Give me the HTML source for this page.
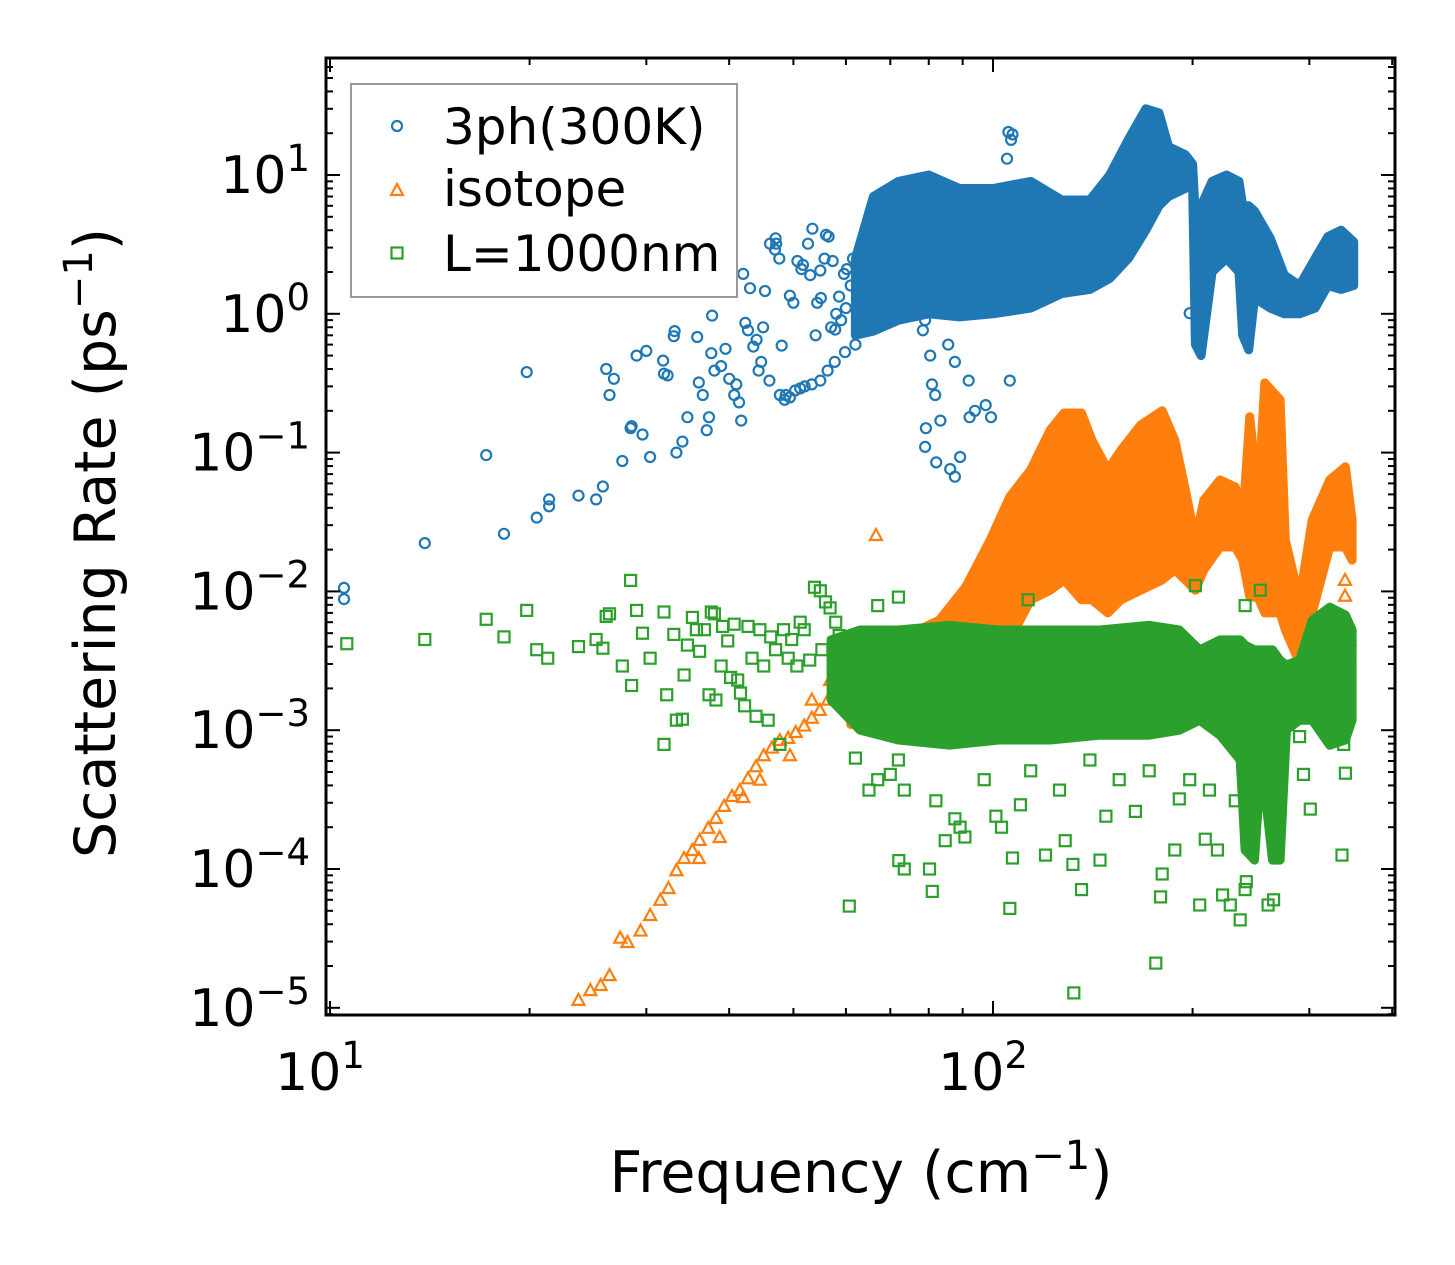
<!DOCTYPE html>
<html><head><meta charset="utf-8"><style>
html,body{margin:0;padding:0;background:#fff;}
svg{display:block;font-family:"DejaVu Sans","Liberation Sans",sans-serif;}
</style></head>
<body>
<svg id="chart" width="1455" height="1265" viewBox="0 0 1455 1265" xmlns="http://www.w3.org/2000/svg">
<rect width="1455" height="1265" fill="#fff"/>
<g id="marks"></g>
<g id="axes"></g>
<text x="861" y="1192" font-size="57" text-anchor="middle">Frequency (cm<tspan dy="-23" font-size="40">−1</tspan><tspan dy="23">)</tspan></text>
<text transform="translate(115,543) rotate(-90)" font-size="57" text-anchor="middle">Scattering Rate (ps<tspan dy="-23" font-size="40">−1</tspan><tspan dy="23">)</tspan></text>
<g>
<rect x="351" y="84" width="386" height="213" fill="#fff" stroke="#999" stroke-width="2"/>
<circle cx="397" cy="126" r="5" fill="none" stroke="#1f77b4" stroke-width="2.2"/>
<text x="443" y="144" font-size="50">3ph(300K)</text>
<polygon points="397,184 403,195 391,195" fill="none" stroke="#ff7f0e" stroke-width="2.2"/>
<text x="443" y="206" font-size="50">isotope</text>
<rect x="391.5" y="247.5" width="11" height="11" fill="none" stroke="#2ca02c" stroke-width="2.2"/>
<text x="443" y="271" font-size="50">L=1000nm</text>
</g>
</svg>
<script>
// ---- data ----
const blueBandFreq=[62,66,72,80,89,100,114,127,140,150,160,170,178,184,195,200,202,206,214,225,235,238,243,248,262,275,290,306,320,335,350];
const blueBandLo=[0.7,0.75,0.9,1.0,0.95,1.0,1.1,1.4,1.5,1.8,2.5,4,6,7,8,8.7,0.6,0.5,2,2.5,2,0.7,0.55,1.3,1.1,1.0,1.0,1.1,1.6,1.5,1.6];
const blueBandHi=[2.5,7,9,10,8,8,9,6.6,6.6,10,18,30,28,16,14,12,5,6,9,10,9,6,6,5.5,3.5,1.9,1.6,2.5,3.6,4,3.3];
const blueFreq=[10.5,10.5,13.9,17.2,18.3,19.8,20.5,21.4,21.4,23.7,25.2,25.8,26.1,26.4,26.8,27.6,28.4,28.5,29,30,29.6,30.4,31.8,31.9,32.3,33,33.1,33.3,34,34.6,35.8,36,36.5,37,37.3,37.6,37.7,38,38.9,39.5,40,40.7,41,41.4,41.7,42,42.3,42.7,43,43.5,44,44.3,44.7,45,45.3,46,46.9,47.1,47.6,48,48.7,49.4,50,50.7,51.4,51.7,52.6,53.4,54.3,54.9,55.7,56.5,57.3,57.8,58.6,59.6,60.2,61.5,46.1,47,47.7,48.5,49.4,50.3,51.2,52,53.3,54.9,56.3,57.7,59.8,62,78.4,79,80.4,80.9,81.8,83.3,79.2,79,82.1,87.6,86.2,89.2,93.9,97.5,99.3,92.2,91.9,85.6,87.6,106,106.5,107,105.5,105,176.7,198,161,56,58,60,55,57,59,61,53,54];
const blueRate=[0.0106,0.0088,0.0223,0.096,0.026,0.38,0.034,0.041,0.046,0.049,0.046,0.057,0.4,0.26,0.34,0.087,0.15,0.155,0.5,0.54,0.135,0.093,0.46,0.37,0.36,0.69,0.75,0.1,0.12,0.18,0.68,0.32,0.26,0.145,0.18,0.52,0.97,0.39,0.42,0.56,0.34,0.26,0.31,0.23,0.17,1.94,0.86,0.76,1.53,0.58,0.65,0.39,0.45,0.8,1.46,0.33,2.9,3.2,2.5,0.59,0.26,1.35,1.2,2.4,2.1,2.25,3.2,4.1,1.2,2.05,2.5,3.6,2.4,0.77,1.33,1.94,2.1,2.5,3.2,3.5,0.26,0.24,0.25,0.28,0.29,0.30,0.31,0.33,0.39,0.45,0.53,0.6,0.76,0.9,0.5,0.31,0.26,0.17,0.15,0.11,0.085,0.067,0.076,0.093,0.2,0.22,0.18,0.18,0.33,0.6,0.45,0.33,17.9,19.6,20.4,13.1,10.4,1.01,4.7,3.7,1.0,1.1,1.3,0.8,0.9,1.6,1.9,0.7,1.5];
const orangeBandFreq=[61,72,83,91,99,106,114,122,128,136,141,149,156,167,180,188,195,202,208,220,232,238,244,251,257,271,276,290,303,322,340,348];
const orangeBandLo=[1.1e-3,1.3e-3,1.5e-3,1.65e-3,2.3e-3,4.5e-3,8.7e-3,0.0102,0.0121,8.7e-3,8.7e-3,7e-3,8.7e-3,0.0102,0.0121,0.0143,0.0121,0.0102,0.0143,0.0209,0.0209,0.0168,9.1e-3,9.1e-3,7e-3,7e-3,5.3e-3,3.05e-3,7e-3,0.0209,0.0209,0.0168];
const orangeBandHi=[3.2e-3,4.5e-3,6.2e-3,0.0108,0.0234,0.048,0.075,0.146,0.193,0.193,0.123,0.075,0.104,0.158,0.2,0.123,0.054,0.0234,0.0455,0.0635,0.0565,0.0327,0.181,0.0455,0.318,0.24,0.0234,8.7e-3,0.0327,0.0635,0.079,0.0327];
const orangeFreq=[23.7,24.7,25.6,26.4,27.4,28.1,29.4,30.4,31.5,32.4,33.3,34.2,35.2,36.1,37.2,38.2,39.3,40.4,41.5,42.7,43.9,45.1,46.4,47.7,49.1,50.4,51.9,53.3,54.8,56.4,57.9,59.6,42,36,49.4,44.5,38.7,53.3,56.8,61,66.6,161,147.5,178.6,240,339.6,339.6,345,191.4,111.7,97.3];
const orangeRate=[1.14e-5,1.34e-5,1.46e-5,1.72e-5,3.2e-5,2.98e-5,3.6e-5,4.66e-5,6.0e-5,7.3e-5,9.8e-5,1.2e-4,1.37e-4,1.62e-4,1.98e-4,2.33e-4,2.85e-4,3.36e-4,3.7e-4,4.5e-4,5.5e-4,6.6e-4,7.5e-4,8.5e-4,8.8e-4,9.7e-4,1.08e-3,1.23e-3,1.4e-3,1.66e-3,1.95e-3,2.3e-3,3.3e-4,1.2e-4,6.6e-4,4.4e-4,1.7e-4,1.66e-3,2.3e-3,2.9e-3,0.0255,0.0168,0.0205,0.042,0.0216,0.0121,9.3e-3,4.5e-3,0.0327,0.0168,0.0168];
const greenBandFreq=[57,63,72,86,102,122,145,172,191,205,220,236,240,248,254,264,271,277,290,303,322,340,348];
const greenBandLo=[1.65e-3,1.0e-3,8.5e-4,7.8e-4,8.5e-4,8.5e-4,9.2e-4,9.2e-4,1.0e-3,1.18e-3,9.2e-4,6.1e-4,1.37e-4,1.16e-4,6.1e-4,1.16e-4,1.16e-4,1.0e-3,1.18e-3,1.18e-3,7.8e-4,8.5e-4,1.18e-3];
const greenBandHi=[4.47e-3,5.27e-3,5.27e-3,5.7e-3,5.27e-3,5.27e-3,5.27e-3,5.7e-3,5.27e-3,3.79e-3,4.47e-3,4.47e-3,4.1e-3,3.79e-3,3.79e-3,3.79e-3,3.19e-3,2.95e-3,3.19e-3,6.2e-3,7.7e-3,6.76e-3,5.27e-3];
const greenFreq=[10.6,13.9,17.2,18.3,19.8,20.5,21.3,23.7,25.2,25.8,26.1,26.4,27.6,28.4,28.5,29,29.6,30.4,31.9,31.9,32.2,33,33.3,34,34.2,34.6,35.2,35.7,36.1,36.7,37.3,37.6,38,38.2,38.9,39.1,39.8,40.2,40.7,41.2,41.6,42.2,42.7,43.3,43.9,44.5,45.1,45.8,46.2,47,47.7,48.3,49.1,49.7,50.6,51.2,51.9,52.9,53.8,54.9,55.2,55.9,56.8,57.9,58.6,60.7,62,62.6,72.1,73.5,81,80.2,84.7,87.6,89.2,90.7,101,103,106,107,110,120,128.5,136,132,145,132.4,148,164,176,179,180,188,191,205,209,218,222,228,236,240,241,260,265,294,301,336,340,338,290,155,140,172,97,82,73.5,70,67,65,72,126,114,198,212,232,113,67,72,202,253,240];
const greenRate=[4.2e-3,4.5e-3,6.3e-3,4.7e-3,7.3e-3,3.8e-3,3.3e-3,4.0e-3,4.5e-3,3.9e-3,6.6e-3,6.9e-3,2.9e-3,0.012,2.1e-3,7.3e-3,5.0e-3,3.3e-3,7.9e-4,7.1e-3,1.8e-3,4.9e-3,1.18e-3,1.2e-3,2.5e-3,4.1e-3,6.5e-3,5.3e-3,3.7e-3,5.3e-3,1.8e-3,7.1e-3,6.9e-3,1.65e-3,2.9e-3,5.6e-3,4.4e-3,2.4e-3,5.8e-3,2.3e-3,1.85e-3,1.5e-3,5.6e-3,3.3e-3,1.26e-3,5.3e-3,2.9e-3,1.18e-3,4.7e-3,3.8e-3,7.9e-4,5.3e-3,3.3e-3,4.5e-3,2.9e-3,6.0e-3,5.3e-3,3.2e-3,0.0107,0.0101,3.8e-3,8.4e-3,7.6e-3,6.0e-3,4.8e-3,5.4e-5,6.3e-4,2.8e-3,1.15e-4,1.0e-4,6.9e-5,1.0e-4,1.6e-4,2.3e-4,2e-4,1.7e-4,2.4e-4,2e-4,5.2e-5,1.2e-4,2.9e-4,1.26e-4,1.6e-4,7.1e-5,1.08e-4,1.16e-4,1.28e-5,2.4e-4,2.6e-4,2.1e-5,6.3e-5,9.2e-5,1.37e-4,3.2e-4,5.5e-5,1.64e-4,1.37e-4,6.5e-5,5.5e-5,4.3e-5,7.1e-5,8.1e-5,5.5e-5,6e-5,4.8e-4,2.7e-4,1.26e-4,4.9e-4,7.9e-4,9.0e-4,4.4e-4,6.1e-4,5.1e-4,4.4e-4,3.1e-4,3.7e-4,4.8e-4,4.4e-4,3.7e-4,6.1e-4,3.7e-4,5.1e-4,4.4e-4,3.7e-4,3.1e-4,8.7e-3,7.9e-3,9.1e-3,0.011,0.0102,7.9e-3];
const xMajorTicks=[10,100];
const xMajorExp=["1","2"];
const yMajorTicks=[10,1,0.1,0.01,0.001,1e-4,1e-5];
const yMajorExp=["1","0","−1","−2","−3","−4","−5"];

// ---- axes functions ----
const L=326,R=1395,T=58,B=1015;
function xs(f){return 330+663*(Math.log10(f)-1);}
function ys(v){return 175-138.8*Math.log10(v/10);}
const NS="http://www.w3.org/2000/svg";
const marks=document.getElementById('marks');
const axes=document.getElementById('axes');
function mk(tag,attrs,parent){const e=document.createElementNS(NS,tag);for(const k in attrs)e.setAttribute(k,attrs[k]);parent.appendChild(e);return e;}

function band(fr,lo,hi,color,name){
  const pts=[];
  for(let i=0;i<fr.length;i++)pts.push(xs(fr[i]).toFixed(1)+','+ys(hi[i]).toFixed(1));
  for(let i=fr.length-1;i>=0;i--)pts.push(xs(fr[i]).toFixed(1)+','+ys(lo[i]).toFixed(1));
  const p=mk('polygon',{points:pts.join(' '),fill:color,stroke:color,'stroke-width':9,'stroke-linejoin':'round'},marks);
  
  
}
function pts(fr,rt,color,shape,name){
  const g=mk('g',{fill:'none',stroke:color,'stroke-width':2.2},marks);
  
  
  for(let i=0;i<fr.length;i++){
    const x=xs(fr[i]),y=ys(rt[i]);
    let e;
    if(shape==='c')e=mk('circle',{cx:x.toFixed(1),cy:y.toFixed(1),r:5},g);
    else if(shape==='t')e=mk('polygon',{points:`${x},${y-6} ${x+6},${y+5} ${x-6},${y+5}`},g);
    else e=mk('rect',{x:(x-5.5).toFixed(1),y:(y-5.5).toFixed(1),width:11,height:11},g);
    
    
  }
}
band(blueBandFreq,blueBandLo,blueBandHi,'#1f77b4','3ph-dense-region');
pts(blueFreq,blueRate,'#1f77b4','c','3ph-points');
band(orangeBandFreq,orangeBandLo,orangeBandHi,'#ff7f0e','isotope-dense-region');
pts(orangeFreq,orangeRate,'#ff7f0e','t','isotope-points');
band(greenBandFreq,greenBandLo,greenBandHi,'#2ca02c','boundary-dense-region');
pts(greenFreq,greenRate,'#2ca02c','s','boundary-points');

// frame
const fr=mk('rect',{x:L,y:T,width:R-L,height:B-T,fill:'none',stroke:'#000','stroke-width':3},axes);


// x ticks
for(let d=10;d<=100;d*=10){for(let m=1;m<10;m++){const f=d*m;const x=xs(f);if(x<L||x>R)continue;const len=m===1?14:7;
  mk('line',{x1:x,x2:x,y1:B,y2:B-len,stroke:'#000','stroke-width':2},axes);
  mk('line',{x1:x,x2:x,y1:T,y2:T+len,stroke:'#000','stroke-width':2},axes);}}
xMajorTicks.forEach((f,i)=>{const t=mk('text',{x:xs(f)-10,y:1090,'font-size':52,'text-anchor':'middle'},axes);
  
  
  t.textContent='10';const s=mk('tspan',{dy:-22,'font-size':37},t);s.textContent=xMajorExp[i];});
// y ticks
for(let d=1e-6;d<=100;d*=10){for(let m=1;m<10;m++){const v=d*m;const y=ys(v);if(y<T||y>B)continue;const len=m===1?14:7;
  mk('line',{x1:L,x2:L+len,y1:y,y2:y,stroke:'#000','stroke-width':2},axes);
  mk('line',{x1:R,x2:R-len,y1:y,y2:y,stroke:'#000','stroke-width':2},axes);}}
yMajorTicks.forEach((v,i)=>{const y=ys(v);const t=mk('text',{x:310,y:y+18,'font-size':52,'text-anchor':'end'},axes);
  
  
  t.appendChild(document.createTextNode('10'));const s=mk('tspan',{dy:-22,'font-size':37},t);s.textContent=yMajorExp[i];});
</script>
</body></html>
